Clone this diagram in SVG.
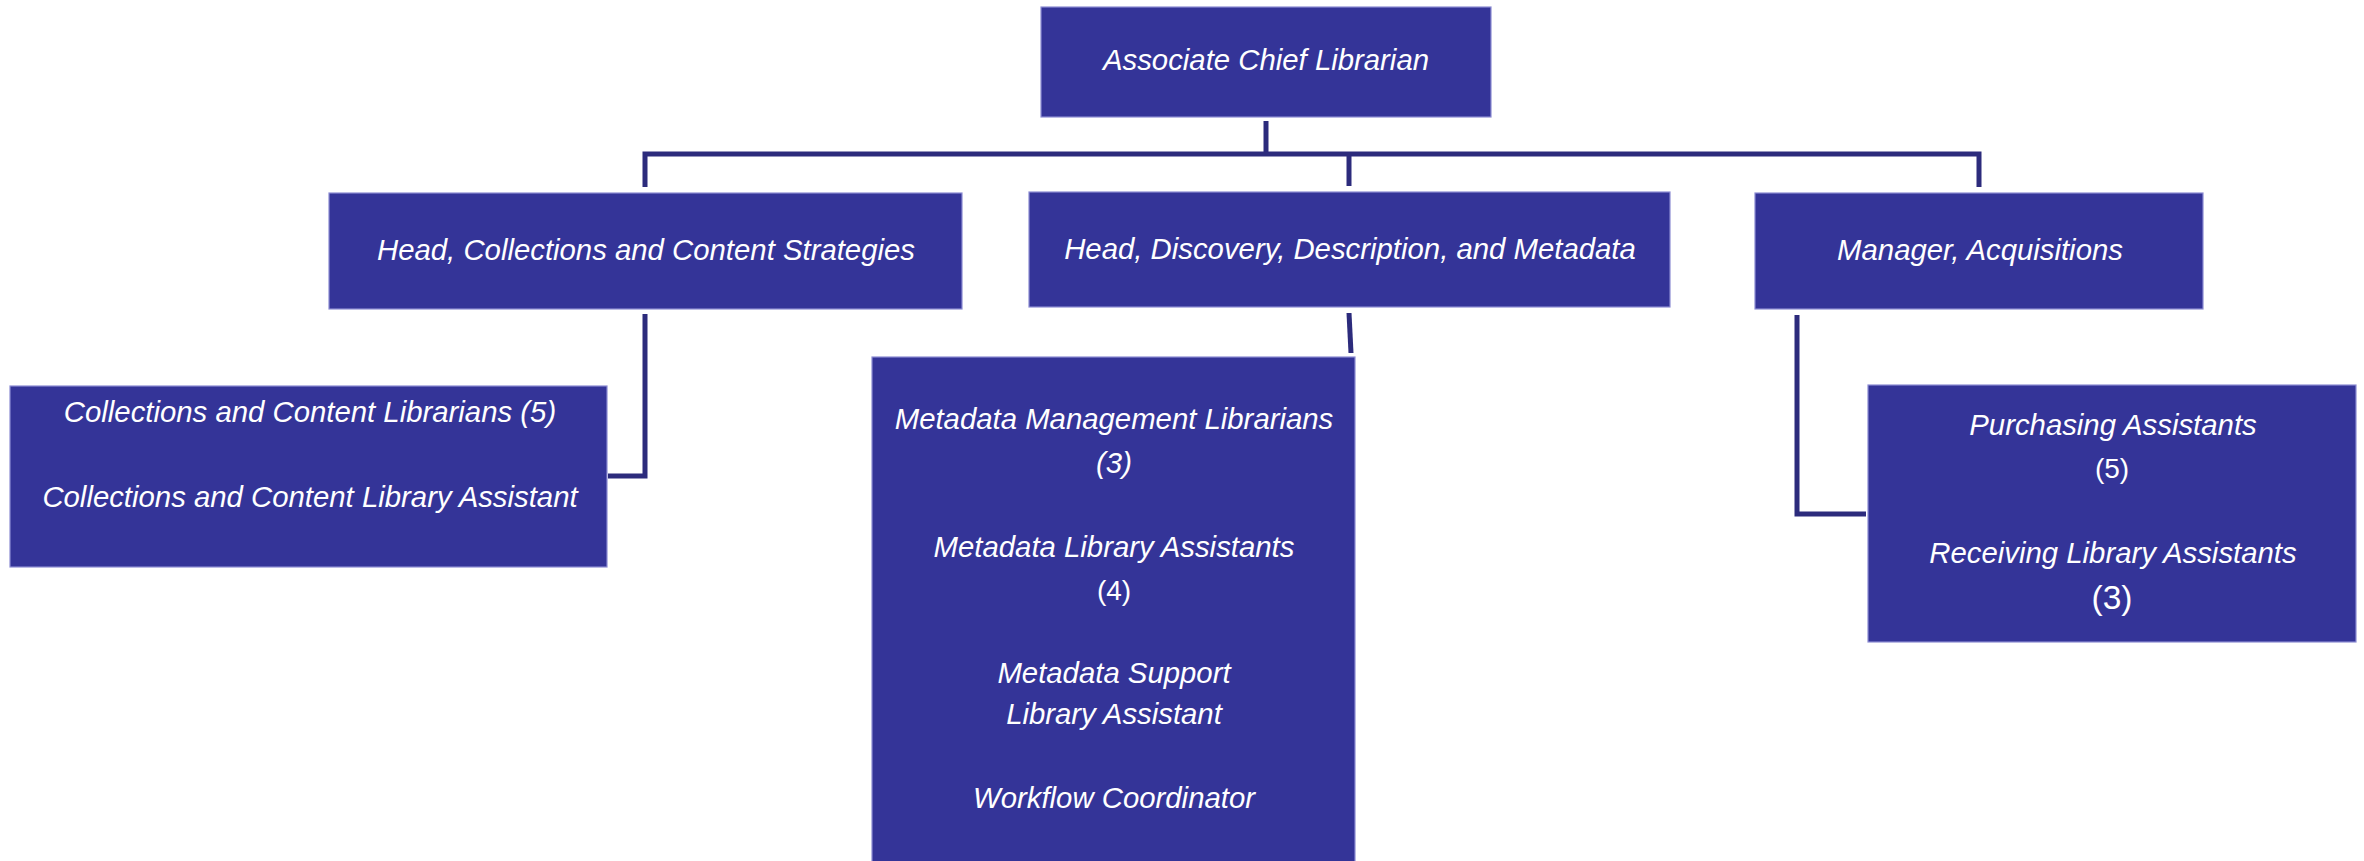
<svg xmlns="http://www.w3.org/2000/svg" width="2364" height="861" viewBox="0 0 2364 861">
<style>
.box{fill:#343498;stroke:#8c8cd2;stroke-width:1.2}
.t{font-family:"Liberation Sans",Arial,sans-serif;font-size:29.33px;font-style:italic;fill:#ffffff;text-anchor:middle}
.n{font-style:normal}
.conn{fill:none;stroke:#2c2b7c;stroke-width:5;stroke-linejoin:miter;stroke-linecap:butt}
</style>
<rect width="2364" height="861" fill="#ffffff"/>
<g id="connectors">
<path class="conn" d="M1266 121 V154"/>
<path class="conn" d="M645 187 V154 H1979 V187"/>
<path class="conn" d="M1349 154 V186"/>
<path class="conn" d="M645 314 V476 H608"/>
<path class="conn" d="M1349 313 L1351 353"/>
<path class="conn" d="M1797 315 V514 H1866"/>
</g>
<g id="associate-chief-librarian">
<rect class="box" x="1041" y="7" width="450" height="110"/>
<text class="t" x="1266" y="70">Associate Chief Librarian</text>
</g>
<g id="head-collections">
<rect class="box" x="329" y="193" width="633" height="116"/>
<text class="t" x="646" y="260">Head, Collections and Content Strategies</text>
</g>
<g id="head-discovery">
<rect class="box" x="1029" y="192" width="641" height="115"/>
<text class="t" x="1350" y="259">Head, Discovery, Description, and Metadata</text>
</g>
<g id="manager-acquisitions">
<rect class="box" x="1755" y="193" width="448" height="116"/>
<text class="t" x="1980" y="260">Manager, Acquisitions</text>
</g>
<g id="collections-staff">
<rect class="box" x="10" y="386" width="597" height="181"/>
<text class="t" x="310" y="422">Collections and Content Librarians (5)</text>
<text class="t" x="310" y="507">Collections and Content Library Assistant</text>
</g>
<g id="metadata-staff">
<rect class="box" x="872" y="357" width="483" height="510"/>
<text class="t" x="1114" y="429">Metadata Management Librarians</text>
<text class="t" x="1114" y="473">(3)</text>
<text class="t" x="1114" y="557">Metadata Library Assistants</text>
<text class="t n" x="1114" y="600" style="font-size:28px">(4)</text>
<text class="t" x="1114" y="683">Metadata Support</text>
<text class="t" x="1114" y="724">Library Assistant</text>
<text class="t" x="1114" y="808">Workflow Coordinator</text>
</g>
<g id="acquisitions-staff">
<rect class="box" x="1868" y="385" width="488" height="257"/>
<text class="t" x="2113" y="435">Purchasing Assistants</text>
<text class="t n" x="2112" y="478" style="font-size:28px">(5)</text>
<text class="t" x="2113" y="563">Receiving Library Assistants</text>
<text class="t n" x="2112" y="609" style="font-size:33.5px">(3)</text>
</g>
</svg>
